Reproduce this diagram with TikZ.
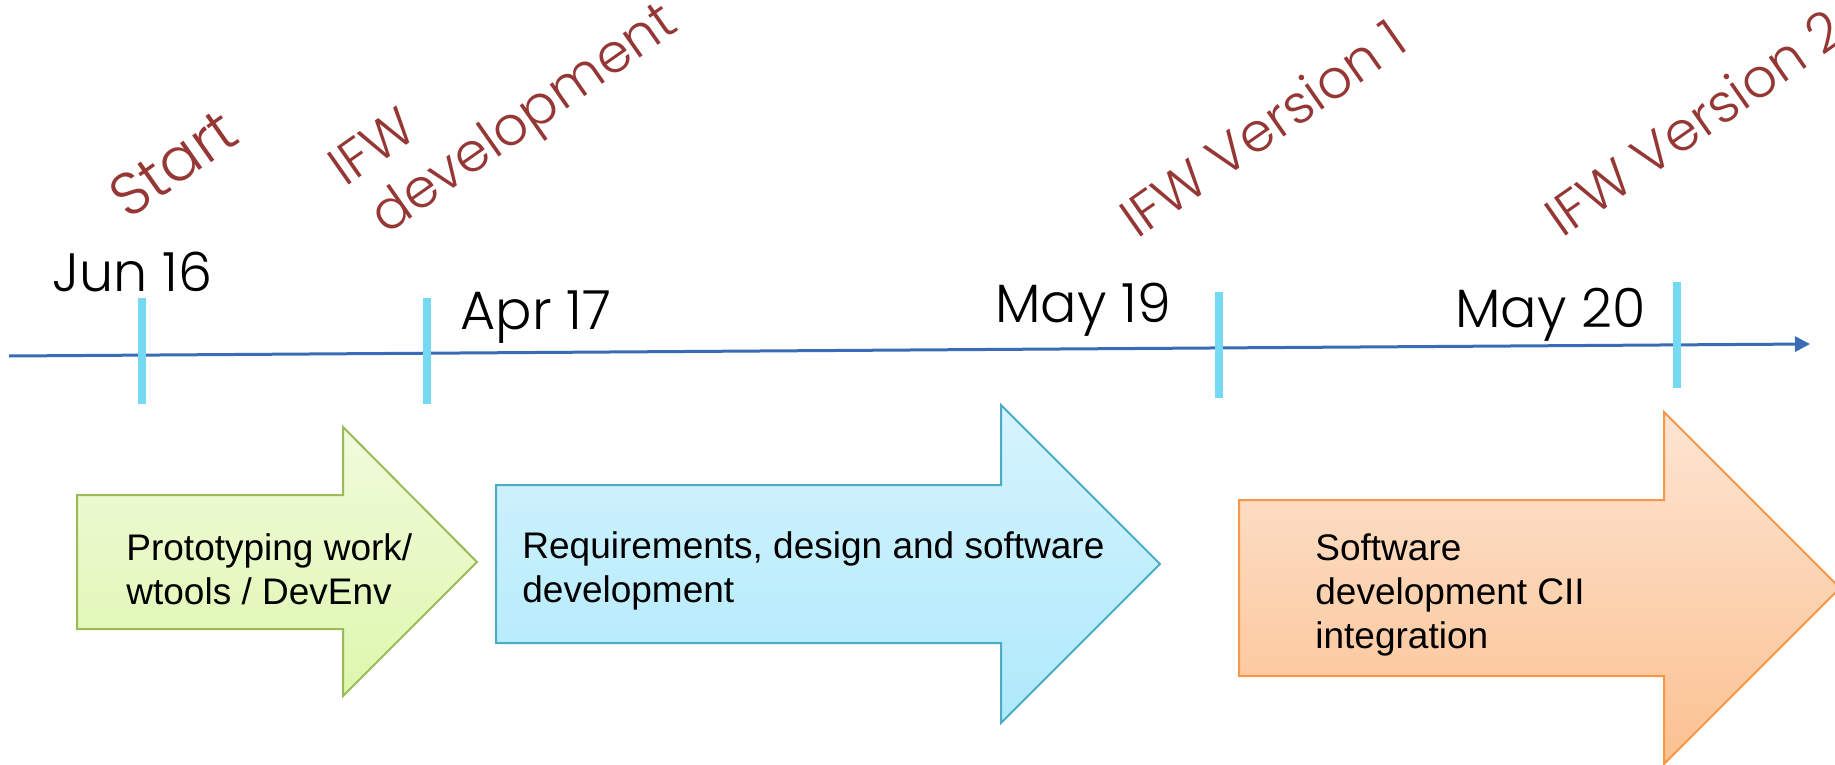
\documentclass[tikz,border=0pt]{standalone}
\usepackage{fontspec}
\setmainfont{Liberation Sans}
\newfontfamily\gothic{Poppins}[UprightFont={* Light}]
\usetikzlibrary{arrows.meta}
\definecolor{axisblue}{HTML}{3A6BB5}
\definecolor{tickcyan}{HTML}{75D9F3}
\definecolor{labelred}{HTML}{953735}
\definecolor{greenB}{HTML}{9BBB59}
\definecolor{greenT}{HTML}{F1FBDC}
\definecolor{greenL}{HTML}{DDF7AD}
\definecolor{blueB}{HTML}{4BACC6}
\definecolor{blueT}{HTML}{D6F4FD}
\definecolor{blueL}{HTML}{AEE9FB}
\definecolor{orangeB}{HTML}{F79646}
\definecolor{orangeT}{HTML}{FDE5D3}
\definecolor{orangeL}{HTML}{FBC190}
\tikzset{
  axisline/.style={draw=axisblue, line width=1.5pt, -{Triangle[length=7.5pt,width=7.5pt]}},
  tickmark/.style={draw=tickcyan, line width=4pt},
  datelabel/.style={anchor=base west, inner sep=0pt, font=\gothic\fontsize{27pt}{32pt}\selectfont, text=black},
  milestone/.style={anchor=base west, inner sep=0pt, rotate=35, font=\gothic\fontsize{27pt}{32pt}\selectfont, text=labelred},
  phasetext/.style={anchor=north west, inner sep=0pt, align=left, font=\fontsize{18.5pt}{22pt}\selectfont, text=black},
  phasearrow/.style={line width=1pt}
}
\begin{document}
\begin{tikzpicture}[x=0.5pt,y=-0.5pt]
\useasboundingbox (0,0) rectangle (1835,765);

% phase arrows
\path[phasearrow, draw=greenB, top color=greenT, bottom color=greenL]
  (77,495) -- (343,495) -- (343,427) -- (477,562) -- (343,696) -- (343,629) -- (77,629) -- cycle;
\path[phasearrow, draw=blueB, top color=blueT, bottom color=blueL]
  (496,485) -- (1001,485) -- (1001,405) -- (1160,564) -- (1001,723) -- (1001,643) -- (496,643) -- cycle;
\path[phasearrow, draw=orangeB, top color=orangeT, bottom color=orangeL]
  (1239,500) -- (1664,500) -- (1664,412) -- (1840,588) -- (1664,764) -- (1664,676) -- (1239,676) -- cycle;

\node[phasetext] (p1) at (126,533) {Prototyping work/\\wtools / DevEnv};
\node[phasetext] (p2) at (522,531) {Requirements, design and software\\development};
\node[phasetext] (p3) at (1315,533) {Software\\development CII\\integration};

% axis
\coordinate (axL) at (9,356);
\coordinate (axR) at (1810,344);
\draw[axisline] (axL) -- (axR);

% ticks
\draw[tickmark] (142,298) -- (142,404);
\draw[tickmark] (427,298) -- (427,404);
\draw[tickmark] (1219,292) -- (1219,398);
\draw[tickmark] (1677,282) -- (1677,388);

% dates
\node[datelabel] (d1) at (52,291) {Jun 16};
\node[datelabel] (d2) at (460,329) {Apr 17};
\node[datelabel] (d3) at (995,322) {May 19};
\node[datelabel] (d4) at (1455,327) {May 20};

% milestones
\node[milestone, font=\gothic\fontsize{30pt}{34pt}\selectfont] (m1) at (128,221) {Start};
\node[milestone] (m2a) at (345,188) {IFW};
\node[milestone] (m2b) at (386,236) {development};
\node[milestone] (m3) at (1137,240) {IFW Version 1};
\node[milestone] (m4) at (1562,239) {IFW Version 2};
\end{tikzpicture}
\end{document}
